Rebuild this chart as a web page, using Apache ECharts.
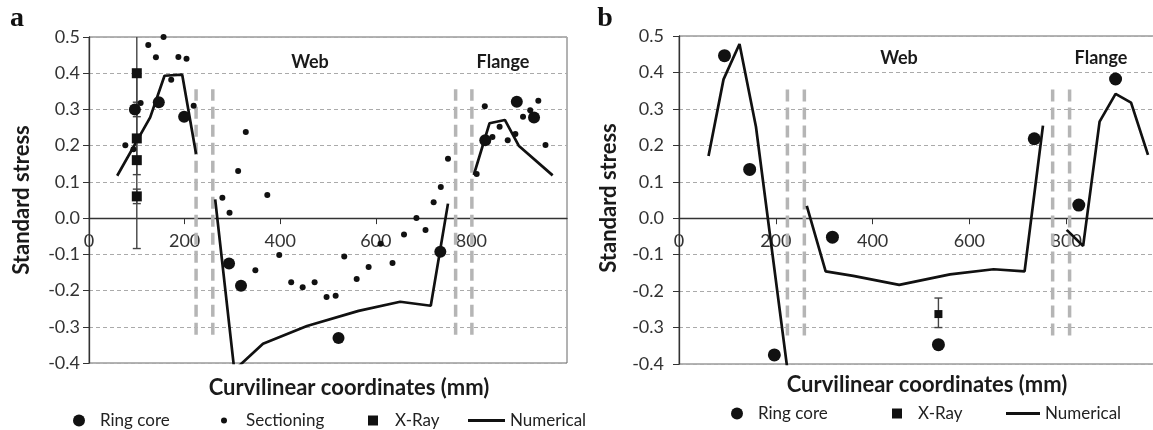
<!DOCTYPE html>
<html>
<head>
<meta charset="utf-8">
<script src="https://cdn.jsdelivr.net/npm/echarts@6/dist/echarts.min.js"></script>
<style>
  html, body { margin: 0; padding: 0; background: #fff; }
  #chart { width: 1153px; height: 430px; }
</style>
</head>
<body>
<div id="chart"></div>
<script>
// ---- panel a ----
const ringCoreA = [[96, 0.30], [146, 0.32], [199, 0.28], [293, -0.125], [318, -0.187],
  [522, -0.331], [735, -0.093], [829, 0.215], [895, 0.321], [931, 0.278]];
const sectioningA = [[76, 0.201], [93, 0.19], [108, 0.318], [124, 0.478], [140, 0.444], [156, 0.50],
  [172, 0.382], [187, 0.445], [204, 0.44], [219, 0.31], [279, 0.056], [294, 0.015], [312, 0.13],
  [328, 0.238], [348, -0.144], [373, 0.064], [398, -0.102], [423, -0.177], [447, -0.191],
  [472, -0.177], [497, -0.218], [516, -0.214], [534, -0.106], [560, -0.168], [585, -0.135],
  [610, -0.071], [635, -0.124], [659, -0.045], [685, 0.0], [704, -0.033], [721, 0.044],
  [736, 0.086], [751, 0.164], [811, 0.122], [828, 0.309], [844, 0.224], [859, 0.252],
  [876, 0.215], [892, 0.232], [908, 0.28], [923, 0.298], [940, 0.324], [955, 0.202]];
const xRayA = [[100, 0.40], [100, 0.22], [100, 0.16], [100, 0.06]];
const xRayErrA = [[0.28, 0.52], [0.12, 0.32], [-0.084, 0.40], [0.04, 0.08]];
const numericalA = [
  [[59, 0.117], [128, 0.278], [158, 0.393], [195, 0.396], [224, 0.177]],
  [[264, 0.052], [304, -0.42], [364, -0.347], [456, -0.298], [564, -0.256], [651, -0.231], [715, -0.242], [751, 0.04]],
  [[805, 0.119], [838, 0.262], [870, 0.271], [899, 0.20], [970, 0.118]]
];
const boundariesA = [224, 259, 767, 801];

// ---- panel b ----
const ringCoreB = [[94, 0.446], [146, 0.134], [197, -0.375], [317, -0.052], [536, -0.347],
  [734, 0.218], [826, 0.036], [902, 0.382]];
const xRayB = [[536, -0.263]];
const xRayErrB = [[-0.30, -0.219]];
const numericalB = [
  [[61, 0.171], [92, 0.381], [125, 0.478], [159, 0.251], [224, -0.415]],
  [[264, 0.034], [303, -0.146], [360, -0.158], [455, -0.183], [560, -0.154], [650, -0.14], [714, -0.146], [752, 0.254]],
  [[801, -0.032], [835, -0.076], [869, 0.265], [902, 0.341], [934, 0.317], [969, 0.174]]
];
const boundariesB = [224, 259, 772, 807];

const boundarySpan = [-0.322, 0.356];
const xRange = [0, 1000, 200];
const yRange = [-0.4, 0.5, 0.1];

const FONT = 'Lato, "Open Sans", sans-serif';
const INK = '#111';

const grids = [
  { left: 89, top: 37, width: 478, height: 326 },
  { left: 679, top: 36, width: 484, height: 328 }
];

const chart = echarts.init(document.getElementById('chart'));

// the x axis sits on the zero line: shift it up from the bottom of the grid
function xAxisOf(gridIndex) {
  const g = grids[gridIndex];
  const zeroFromBottom = g.height * (0 - yRange[0]) / (yRange[1] - yRange[0]);
  return {
    type: 'value', gridIndex, min: xRange[0], max: xRange[1], interval: xRange[2],
    position: 'bottom', offset: -zeroFromBottom,
    axisLine: { onZero: false, lineStyle: { color: '#333', width: 1.3 } },
    axisTick: { show: true, length: 6, lineStyle: { color: '#333' } },
    axisLabel: { margin: 14, color: '#333', fontFamily: FONT, fontSize: 18, showMaxLabel: false },
    splitLine: { show: false }
  };
}

function yAxisOf(gridIndex, margin) {
  return {
    type: 'value', gridIndex, min: yRange[0], max: yRange[1], interval: yRange[2],
    axisLine: { show: true, lineStyle: { color: '#333', width: 1.3 } },
    axisTick: { show: true, length: 6, lineStyle: { color: '#333' } },
    axisLabel: { margin, color: '#333', fontFamily: FONT, fontSize: 18,
      formatter: v => v.toFixed(1) },
    splitLine: { show: true, lineStyle: { color: '#aaa', type: [4, 3], width: 1 } }
  };
}

function errorBars(points, errs, idx) {
  return {
    type: 'custom', name: 'X-Ray error', xAxisIndex: idx, yAxisIndex: idx, clip: true, z: 4,
    data: points.map((p, i) => [p[0], errs[i][0], errs[i][1]]),
    renderItem(params, api) {
      const lo = api.coord([api.value(0), api.value(1)]);
      const hi = api.coord([api.value(0), api.value(2)]);
      const hw = 4;
      const st = { stroke: '#444', lineWidth: 1.4 };
      return {
        type: 'group',
        children: [
          { type: 'line', shape: { x1: lo[0], y1: lo[1], x2: hi[0], y2: hi[1] }, style: st },
          { type: 'line', shape: { x1: lo[0] - hw, y1: lo[1], x2: lo[0] + hw, y2: lo[1] }, style: st },
          { type: 'line', shape: { x1: hi[0] - hw, y1: hi[1], x2: hi[0] + hw, y2: hi[1] }, style: st }
        ]
      };
    }
  };
}

function boundaryLines(xs, idx) {
  return xs.map(x => ({
    type: 'line', name: 'boundary', xAxisIndex: idx, yAxisIndex: idx, z: 1,
    data: [[x, boundarySpan[0]], [x, boundarySpan[1]]],
    symbol: 'none', silent: true,
    lineStyle: { color: '#b5b5b5', width: 3.5, type: [12, 6] }
  }));
}

function numericalLines(segs, idx) {
  return segs.map(seg => ({
    type: 'line', name: 'Numerical', xAxisIndex: idx, yAxisIndex: idx, z: 3,
    data: seg, symbol: 'none', clip: true,
    itemStyle: { color: INK },
    lineStyle: { color: INK, width: 2.7 }
  }));
}

function scatter(name, data, idx, symbol, size) {
  return {
    type: 'scatter', name, xAxisIndex: idx, yAxisIndex: idx, z: 5,
    data, symbol, symbolSize: size, itemStyle: { color: INK, opacity: 1 }
  };
}

function legendItem(name, left, top, w, h, pad, icon) {
  return {
    data: [name], left, top, itemWidth: w, itemHeight: h, selectedMode: false, icon,
    textStyle: { color: '#222', fontFamily: FONT, fontSize: 17, padding: [0, 0, 0, pad] }
  };
}

const textStyle = (text, size, weight) => ({ text, fill: '#1a1a1a', font: `${weight} ${size}px ${FONT}`,
  align: 'center', verticalAlign: 'middle' });

chart.setOption({
  animation: false,
  backgroundColor: '#fff',
  grid: grids.map(g => Object.assign({ show: true, borderColor: '#666', borderWidth: 1,
    containLabel: false, outerBoundsMode: 'none' }, g)),
  xAxis: [xAxisOf(0), xAxisOf(1)],
  yAxis: [yAxisOf(0, 9), yAxisOf(1, 15)],
  legend: [
    legendItem('Ring core', 68, 407, 12, 12, 10, 'circle'),
    legendItem('Sectioning', 216, 407, 6, 6, 14, 'circle'),
    legendItem('X-Ray', 363, 407, 10, 10, 12, 'rect'),
    legendItem('Numerical', 463, 407, 37, 3, 0, 'rect'),
    legendItem('Ring core', 726, 400, 12, 12, 10, 'circle'),
    legendItem('X-Ray', 887, 400, 10, 10, 11, 'rect'),
    legendItem('Numerical', 1001, 400, 34, 3, 0, 'rect')
  ],
  graphic: [
    { type: 'text', x: 17, y: 19, style: { text: 'a', fill: '#111', font: 'bold 28px "Liberation Serif", serif', align: 'center', verticalAlign: 'middle' } },
    { type: 'text', x: 605, y: 19, style: { text: 'b', fill: '#111', font: 'bold 28px "Liberation Serif", serif', align: 'center', verticalAlign: 'middle' } },
    { type: 'text', x: 22, y: 200, rotation: Math.PI / 2, style: textStyle('Standard stress', 22, 'bold') },
    { type: 'text', x: 609, y: 198, rotation: Math.PI / 2, style: textStyle('Standard stress', 22, 'bold') },
    { type: 'text', x: 349, y: 388, style: textStyle('Curvilinear coordinates (mm)', 22, 'bold') },
    { type: 'text', x: 927, y: 385, style: textStyle('Curvilinear coordinates (mm)', 22, 'bold') },
    { type: 'text', x: 310, y: 62, style: textStyle('Web', 18, 'bold') },
    { type: 'text', x: 503, y: 62, style: textStyle('Flange', 18, 'bold') },
    { type: 'text', x: 899, y: 58, style: textStyle('Web', 18, 'bold') },
    { type: 'text', x: 1101, y: 58, style: textStyle('Flange', 18, 'bold') }
  ],
  series: [
    ...boundaryLines(boundariesA, 0),
    ...numericalLines(numericalA, 0),
    errorBars(xRayA, xRayErrA, 0),
    scatter('Ring core', ringCoreA, 0, 'circle', 12),
    scatter('Sectioning', sectioningA, 0, 'circle', 6),
    scatter('X-Ray', xRayA, 0, 'rect', 10),
    ...boundaryLines(boundariesB, 1),
    ...numericalLines(numericalB, 1),
    errorBars(xRayB, xRayErrB, 1),
    scatter('Ring core', ringCoreB, 1, 'circle', 13),
    scatter('X-Ray', xRayB, 1, 'rect', 8)
  ]
});
</script>
</body>
</html>
